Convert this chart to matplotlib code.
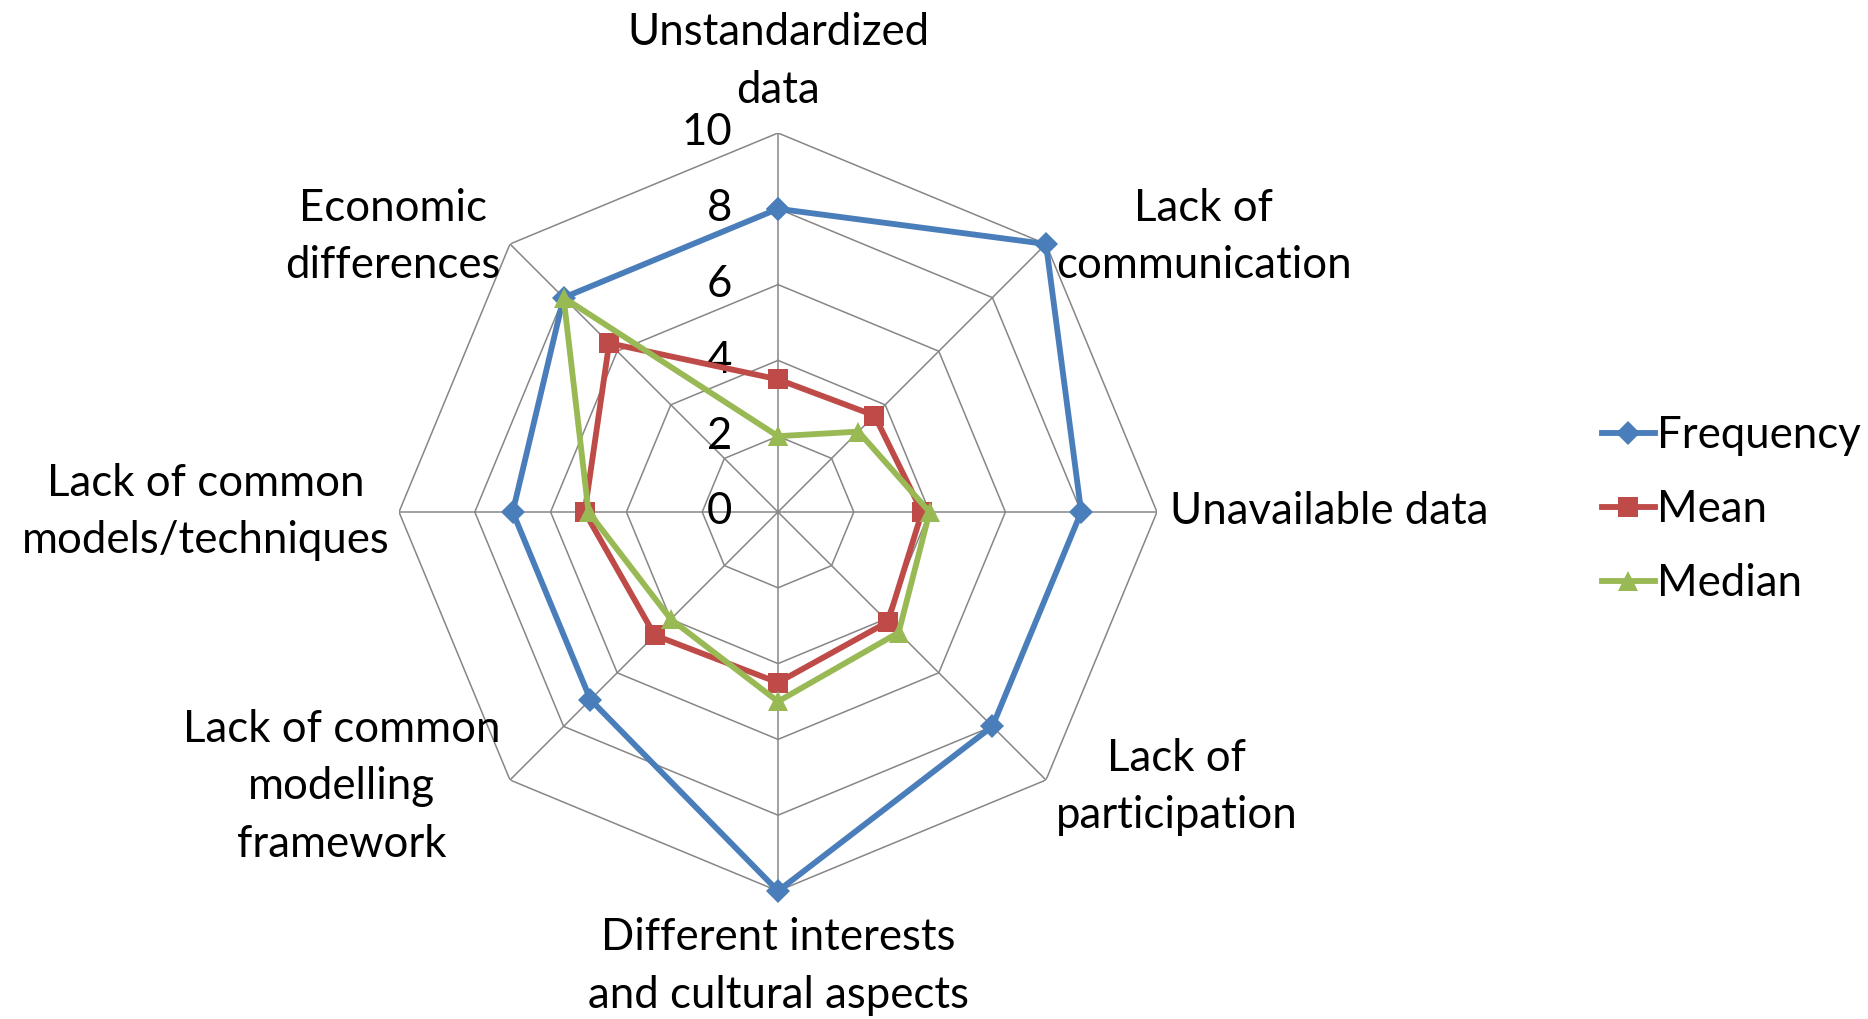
import numpy as np
import matplotlib.pyplot as plt

plt.rcParams['font.family'] = ['Lato', 'DejaVu Sans']

# categories clockwise from top
categories = ['Unstandardized\ndata', 'Lack of\ncommunication', 'Unavailable data',
              'Lack of\nparticipation', 'Different interests\nand cultural aspects',
              'Lack of common\nmodelling\nframework', 'Lack of common\nmodels/techniques',
              'Economic\ndifferences']
frequency = [8, 10, 8, 8, 10, 7, 7, 8]
mean = [3.5, 3.6, 3.8, 4.1, 4.5, 4.6, 5.1, 6.3]
median = [2, 3, 4, 4.5, 5, 4, 5, 8]
rticks = [0, 2, 4, 6, 8, 10]

fs = 31.5
grid_col = '#868686'

fig = plt.figure(figsize=(18.68, 10.19), dpi=100)
cx, cy = 778 / 1868, 1 - 512 / 1019
w, h = 2 * 379 / 1868, 2 * 379 / 1019
ax = fig.add_axes([cx - w / 2, cy - h / 2, w, h], projection='polar')
ax.set_theta_zero_location('N')
ax.set_theta_direction(-1)
ax.set_ylim(0, 10)
ax.grid(False)
ax.spines['polar'].set_visible(False)
ax.set_xticks([])
ax.set_yticks([])
ax.patch.set_visible(False)

n = len(categories)
theta = np.linspace(0, 2 * np.pi, n, endpoint=False)
closed = np.append(theta, theta[0])

# octagon gridlines and spokes
for r in rticks[1:]:
    ax.plot(closed, [r] * (n + 1), color=grid_col, lw=1.1, zorder=1)
for t in theta:
    ax.plot([t, t], [0, 10], color=grid_col, lw=1.1, zorder=1)

# radial labels left of the top spoke
for r in rticks:
    ax.annotate(str(r), xy=(0, r), xytext=(-33, 0), textcoords='offset points',
                ha='right', va='center', fontsize=fs)

series = [
    ('Frequency', frequency, '#4A7EBB', 'D', 12),
    ('Mean', mean, '#BE4B48', 's', 14),
    ('Median', median, '#98B954', '^', 15),
]
for name, vals, col, mk, ms in series:
    ax.plot(closed, vals + vals[:1], color=col, lw=4.2, marker=mk, ms=ms,
            markeredgewidth=0, label=name, zorder=3, clip_on=False)

# category labels around the outside
offsets = [(0, 16, 'center', 'bottom'), (7, 5, 'left', 'center'),
           (9, 0, 'left', 'center'), (7, -5, 'left', 'center'),
           (0, -19, 'center', 'top'), (-7, -5, 'right', 'center'),
           (-7, 0, 'right', 'center'), (-7, 5, 'right', 'center')]
for t, lab, (dx, dy, ha, va) in zip(theta, categories, offsets):
    ax.annotate(lab, xy=(t, 10), xytext=(dx, dy), textcoords='offset points',
                ha=ha, va=va, fontsize=fs, multialignment='center',
                linespacing=1.5, annotation_clip=False)

fig.legend(loc='center left', bbox_to_anchor=(1602 / 1868, 0.5), frameon=False,
           fontsize=fs, handlelength=1.2, handletextpad=0.05, labelspacing=0.75,
           borderaxespad=0, borderpad=0)

fig.savefig('out.png', dpi=100)
